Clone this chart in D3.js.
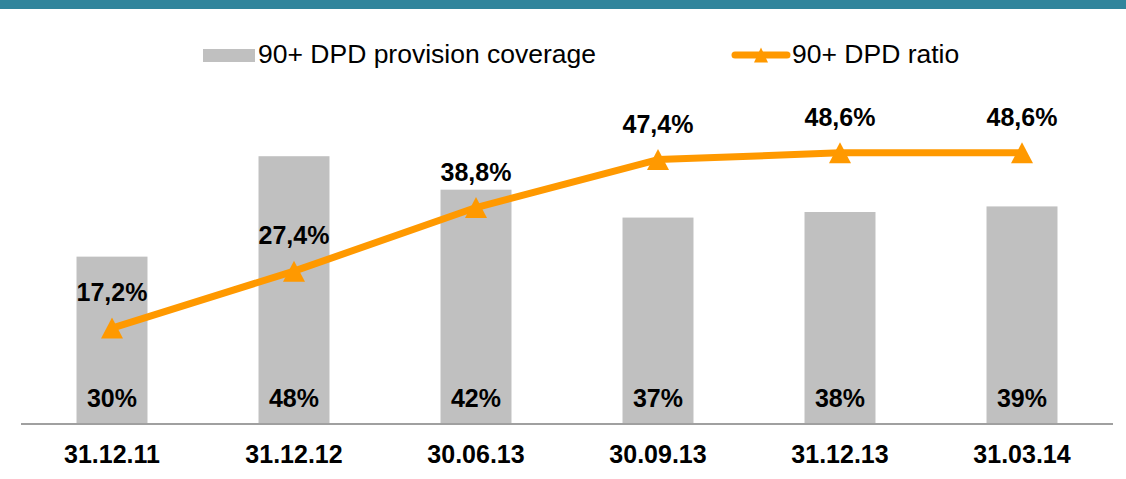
<!DOCTYPE html>
<html>
<head>
<meta charset="utf-8">
<script src="https://cdn.jsdelivr.net/npm/d3@7"></script>
<style>
  body { margin: 0; background: #fff; }
  svg { display: block; font-family: "Liberation Sans", Arial, sans-serif; }
</style>
</head>
<body>
<svg width="1126" height="479"></svg>
<script>
// chart data
const categories = ['31.12.11', '31.12.12', '30.06.13', '30.09.13', '31.12.13', '31.03.14'];
const coverage = [30, 48, 42, 37, 38, 39];            // 90+ DPD provision coverage, %
const ratio = [17.2, 27.4, 38.8, 47.4, 48.6, 48.6];   // 90+ DPD ratio, %
const coverageLabels = ['30%', '48%', '42%', '37%', '38%', '39%'];
const ratioLabels = ['17,2%', '27,4%', '38,8%', '47,4%', '48,6%', '48,6%'];

const svg = d3.select('svg');
const orange = '#FF9900';
const grey = '#C0C0C0';

// teal band across the top
svg.append('rect')
    .attr('x', 0).attr('y', 0)
    .attr('width', 1126).attr('height', 9)
    .attr('fill', '#31859C');

// scales
const x = d3.scaleBand()
    .domain(categories)
    .range([21, 1113])
    .paddingInner(0.61)
    .paddingOuter(0.305);
const y = d3.scaleLinear()
    .domain([0, 76])
    .range([424, 0]);

const data = categories.map((c, i) => ({
  cat: c, cov: coverage[i], rat: ratio[i],
  covLabel: coverageLabels[i], ratLabel: ratioLabels[i]
}));

// bars
svg.append('g').selectAll('rect')
    .data(data)
    .enter().append('rect')
    .attr('x', d => x(d.cat))
    .attr('y', d => y(d.cov))
    .attr('width', x.bandwidth())
    .attr('height', d => y(0) - y(d.cov))
    .attr('fill', grey);

// bar value labels at the foot of each bar
svg.append('g').selectAll('text')
    .data(data)
    .enter().append('text')
    .attr('x', d => x(d.cat) + x.bandwidth() / 2)
    .attr('y', y(0) - 17)
    .attr('text-anchor', 'middle')
    .attr('font-size', '25px')
    .attr('font-weight', 'bold')
    .attr('fill', '#000')
    .text(d => d.covLabel);

// x axis
const xAxis = svg.append('g')
    .attr('transform', `translate(0,${y(0)})`)
    .call(d3.axisBottom(x).tickSize(0).tickPadding(21));
xAxis.select('.domain')
    .attr('d', `M21,0H1113`)
    .attr('stroke', '#A0A0A0')
    .attr('stroke-width', 2);
xAxis.selectAll('text')
    .attr('font-family', '"Liberation Sans", Arial, sans-serif')
    .attr('font-size', '25px')
    .attr('font-weight', 'bold')
    .attr('fill', '#000');

// ratio line
const cx = d => x(d.cat) + x.bandwidth() / 2;
const line = d3.line().x(cx).y(d => y(d.rat));
svg.append('path')
    .datum(data)
    .attr('d', line)
    .attr('fill', 'none')
    .attr('stroke', orange)
    .attr('stroke-width', 7)
    .attr('stroke-linejoin', 'round');

// triangle markers
const tri = (px, py, w, h) => `M${px},${py - h / 2}L${px + w / 2},${py + h / 2}L${px - w / 2},${py + h / 2}Z`;
svg.append('g').selectAll('path')
    .data(data)
    .enter().append('path')
    .attr('d', d => tri(cx(d), y(d.rat), 22, 21))
    .attr('fill', orange);

// ratio labels
svg.append('g').selectAll('text')
    .data(data)
    .enter().append('text')
    .attr('x', cx)
    .attr('y', d => y(d.rat) - 27)
    .attr('text-anchor', 'middle')
    .attr('font-size', '25px')
    .attr('font-weight', 'bold')
    .attr('fill', '#000')
    .text(d => d.ratLabel);

// legend
const legend = svg.append('g');
legend.append('rect')
    .attr('x', 203).attr('y', 49)
    .attr('width', 52).attr('height', 13)
    .attr('fill', grey);
legend.append('text')
    .attr('x', 258).attr('y', 63)
    .attr('font-size', '26.5px')
    .attr('fill', '#000')
    .text('90+ DPD provision coverage');
legend.append('line')
    .attr('x1', 735).attr('x2', 787)
    .attr('y1', 55).attr('y2', 55)
    .attr('stroke', orange)
    .attr('stroke-width', 7)
    .attr('stroke-linecap', 'round');
legend.append('path')
    .attr('d', tri(761, 55, 14, 15))
    .attr('fill', orange);
legend.append('text')
    .attr('x', 792).attr('y', 63)
    .attr('font-size', '26.5px')
    .attr('fill', '#000')
    .text('90+ DPD ratio');
</script>
</body>
</html>
